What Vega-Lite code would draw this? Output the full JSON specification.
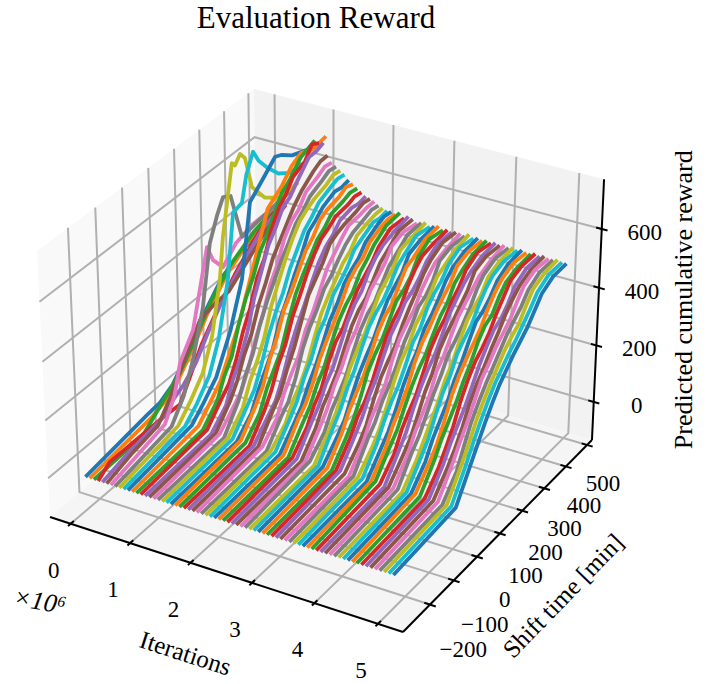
{"$schema":"https://vega.github.io/schema/vega-lite/v6.json","width":706,"height":684,"padding":0,"autosize":{"type":"fit","contains":"padding"},"background":"white","config":{"view":{"stroke":null}},
"data":{"values":[
{"g":"wall","o":0,"i":-0.3525,"t":-311,"r":-136.8},{"g":"wall","o":1,"i":-0.3525,"t":-311,"r":766},{"g":"wall","o":2,"i":-0.3525,"t":523.3,"r":766},{"g":"wall","o":3,"i":-0.3525,"t":523.3,"r":-136.8},{"g":"wall","o":4,"i":-0.3525,"t":-311,"r":-136.8},
{"g":"back","o":0,"i":-0.3525,"t":523.3,"r":-136.8},{"g":"back","o":1,"i":-0.3525,"t":523.3,"r":766},{"g":"back","o":2,"i":5.389,"t":523.3,"r":766},{"g":"back","o":3,"i":5.389,"t":523.3,"r":-136.8},{"g":"back","o":4,"i":-0.3525,"t":523.3,"r":-136.8},
{"g":"floor","o":0,"i":-0.3525,"t":-311,"r":-136.8},{"g":"floor","o":1,"i":5.389,"t":-311,"r":-136.8},{"g":"floor","o":2,"i":5.389,"t":523.3,"r":-136.8},{"g":"floor","o":3,"i":-0.3525,"t":523.3,"r":-136.8},{"g":"floor","o":4,"i":-0.3525,"t":-311,"r":-136.8},
{"g":"gr","n":"i0","o":0,"i":0,"t":-311,"r":-136.8},{"g":"gr","n":"i0","o":1,"i":0,"t":523.3,"r":-136.8},{"g":"gr","n":"i0","o":2,"i":0,"t":523.3,"r":766},
{"g":"gr","n":"i1","o":0,"i":1,"t":-311,"r":-136.8},{"g":"gr","n":"i1","o":1,"i":1,"t":523.3,"r":-136.8},{"g":"gr","n":"i1","o":2,"i":1,"t":523.3,"r":766},
{"g":"gr","n":"i2","o":0,"i":2,"t":-311,"r":-136.8},{"g":"gr","n":"i2","o":1,"i":2,"t":523.3,"r":-136.8},{"g":"gr","n":"i2","o":2,"i":2,"t":523.3,"r":766},
{"g":"gr","n":"i3","o":0,"i":3,"t":-311,"r":-136.8},{"g":"gr","n":"i3","o":1,"i":3,"t":523.3,"r":-136.8},{"g":"gr","n":"i3","o":2,"i":3,"t":523.3,"r":766},
{"g":"gr","n":"i4","o":0,"i":4,"t":-311,"r":-136.8},{"g":"gr","n":"i4","o":1,"i":4,"t":523.3,"r":-136.8},{"g":"gr","n":"i4","o":2,"i":4,"t":523.3,"r":766},
{"g":"gr","n":"i5","o":0,"i":5,"t":-311,"r":-136.8},{"g":"gr","n":"i5","o":1,"i":5,"t":523.3,"r":-136.8},{"g":"gr","n":"i5","o":2,"i":5,"t":523.3,"r":766},
{"g":"gr","n":"t1","o":0,"i":5.389,"t":-200,"r":-136.8},{"g":"gr","n":"t1","o":1,"i":-0.3525,"t":-200,"r":-136.8},{"g":"gr","n":"t1","o":2,"i":-0.3525,"t":-200,"r":766},
{"g":"gr","n":"t2","o":0,"i":5.389,"t":-100,"r":-136.8},{"g":"gr","n":"t2","o":1,"i":-0.3525,"t":-100,"r":-136.8},{"g":"gr","n":"t2","o":2,"i":-0.3525,"t":-100,"r":766},
{"g":"gr","n":"t3","o":0,"i":5.389,"t":0,"r":-136.8},{"g":"gr","n":"t3","o":1,"i":-0.3525,"t":0,"r":-136.8},{"g":"gr","n":"t3","o":2,"i":-0.3525,"t":0,"r":766},
{"g":"gr","n":"t4","o":0,"i":5.389,"t":100,"r":-136.8},{"g":"gr","n":"t4","o":1,"i":-0.3525,"t":100,"r":-136.8},{"g":"gr","n":"t4","o":2,"i":-0.3525,"t":100,"r":766},
{"g":"gr","n":"t5","o":0,"i":5.389,"t":200,"r":-136.8},{"g":"gr","n":"t5","o":1,"i":-0.3525,"t":200,"r":-136.8},{"g":"gr","n":"t5","o":2,"i":-0.3525,"t":200,"r":766},
{"g":"gr","n":"t6","o":0,"i":5.389,"t":300,"r":-136.8},{"g":"gr","n":"t6","o":1,"i":-0.3525,"t":300,"r":-136.8},{"g":"gr","n":"t6","o":2,"i":-0.3525,"t":300,"r":766},
{"g":"gr","n":"t7","o":0,"i":5.389,"t":400,"r":-136.8},{"g":"gr","n":"t7","o":1,"i":-0.3525,"t":400,"r":-136.8},{"g":"gr","n":"t7","o":2,"i":-0.3525,"t":400,"r":766},
{"g":"gr","n":"t8","o":0,"i":5.389,"t":500,"r":-136.8},{"g":"gr","n":"t8","o":1,"i":-0.3525,"t":500,"r":-136.8},{"g":"gr","n":"t8","o":2,"i":-0.3525,"t":500,"r":766},
{"g":"gr","n":"r0","o":0,"i":-0.3525,"t":-311,"r":0},{"g":"gr","n":"r0","o":1,"i":-0.3525,"t":523.3,"r":0},{"g":"gr","n":"r0","o":2,"i":5.389,"t":523.3,"r":0},
{"g":"gr","n":"r2","o":0,"i":-0.3525,"t":-311,"r":200},{"g":"gr","n":"r2","o":1,"i":-0.3525,"t":523.3,"r":200},{"g":"gr","n":"r2","o":2,"i":5.389,"t":523.3,"r":200},
{"g":"gr","n":"r4","o":0,"i":-0.3525,"t":-311,"r":400},{"g":"gr","n":"r4","o":1,"i":-0.3525,"t":523.3,"r":400},{"g":"gr","n":"r4","o":2,"i":5.389,"t":523.3,"r":400},
{"g":"gr","n":"r6","o":0,"i":-0.3525,"t":-311,"r":600},{"g":"gr","n":"r6","o":1,"i":-0.3525,"t":523.3,"r":600},{"g":"gr","n":"r6","o":2,"i":5.389,"t":523.3,"r":600},
{"g":"ax","n":"a","o":0,"i":-0.3525,"t":-311,"r":-136.8},{"g":"ax","n":"a","o":1,"i":5.389,"t":-311,"r":-136.8},
{"g":"ax","n":"b","o":0,"i":5.389,"t":-311,"r":-136.8},{"g":"ax","n":"b","o":1,"i":5.389,"t":523.3,"r":-136.8},
{"g":"ax","n":"c","o":0,"i":5.389,"t":523.3,"r":-136.8},{"g":"ax","n":"c","o":1,"i":5.389,"t":523.3,"r":766},
{"g":"ax","n":"ti0","o":0,"i":0,"t":-321,"r":-136.8},{"g":"ax","n":"ti0","o":1,"i":0,"t":-299,"r":-136.8},
{"g":"ax","n":"ti1","o":0,"i":1,"t":-321,"r":-136.8},{"g":"ax","n":"ti1","o":1,"i":1,"t":-299,"r":-136.8},
{"g":"ax","n":"ti2","o":0,"i":2,"t":-321,"r":-136.8},{"g":"ax","n":"ti2","o":1,"i":2,"t":-299,"r":-136.8},
{"g":"ax","n":"ti3","o":0,"i":3,"t":-321,"r":-136.8},{"g":"ax","n":"ti3","o":1,"i":3,"t":-299,"r":-136.8},
{"g":"ax","n":"ti4","o":0,"i":4,"t":-321,"r":-136.8},{"g":"ax","n":"ti4","o":1,"i":4,"t":-299,"r":-136.8},
{"g":"ax","n":"ti5","o":0,"i":5,"t":-321,"r":-136.8},{"g":"ax","n":"ti5","o":1,"i":5,"t":-299,"r":-136.8},
{"g":"ax","n":"tt1","o":0,"i":5.3,"t":-200,"r":-136.8},{"g":"ax","n":"tt1","o":1,"i":5.48,"t":-200,"r":-136.8},
{"g":"ax","n":"tt2","o":0,"i":5.3,"t":-100,"r":-136.8},{"g":"ax","n":"tt2","o":1,"i":5.48,"t":-100,"r":-136.8},
{"g":"ax","n":"tt3","o":0,"i":5.3,"t":0,"r":-136.8},{"g":"ax","n":"tt3","o":1,"i":5.48,"t":0,"r":-136.8},
{"g":"ax","n":"tt4","o":0,"i":5.3,"t":100,"r":-136.8},{"g":"ax","n":"tt4","o":1,"i":5.48,"t":100,"r":-136.8},
{"g":"ax","n":"tt5","o":0,"i":5.3,"t":200,"r":-136.8},{"g":"ax","n":"tt5","o":1,"i":5.48,"t":200,"r":-136.8},
{"g":"ax","n":"tt6","o":0,"i":5.3,"t":300,"r":-136.8},{"g":"ax","n":"tt6","o":1,"i":5.48,"t":300,"r":-136.8},
{"g":"ax","n":"tt7","o":0,"i":5.3,"t":400,"r":-136.8},{"g":"ax","n":"tt7","o":1,"i":5.48,"t":400,"r":-136.8},
{"g":"ax","n":"tt8","o":0,"i":5.3,"t":500,"r":-136.8},{"g":"ax","n":"tt8","o":1,"i":5.48,"t":500,"r":-136.8},
{"g":"ax","n":"tr0","o":0,"i":5.3,"t":523.3,"r":0},{"g":"ax","n":"tr0","o":1,"i":5.48,"t":523.3,"r":0},
{"g":"ax","n":"tr2","o":0,"i":5.3,"t":523.3,"r":200},{"g":"ax","n":"tr2","o":1,"i":5.48,"t":523.3,"r":200},
{"g":"ax","n":"tr4","o":0,"i":5.3,"t":523.3,"r":400},{"g":"ax","n":"tr4","o":1,"i":5.48,"t":523.3,"r":400},
{"g":"ax","n":"tr6","o":0,"i":5.3,"t":523.3,"r":600},{"g":"ax","n":"tr6","o":1,"i":5.48,"t":523.3,"r":600},
{"g":"il","s":"0","i":0,"t":-311,"r":-136.8},{"g":"il","s":"1","i":1,"t":-311,"r":-136.8},{"g":"il","s":"2","i":2,"t":-311,"r":-136.8},{"g":"il","s":"3","i":3,"t":-311,"r":-136.8},{"g":"il","s":"4","i":4,"t":-311,"r":-136.8},{"g":"il","s":"5","i":5,"t":-311,"r":-136.8},
{"g":"tl","s":"−200","i":6.3,"t":-307,"r":-136.8},{"g":"tl","s":"−100","i":6.27,"t":-209,"r":-136.8},{"g":"tl","s":"0","i":6.23,"t":-112,"r":-136.8},{"g":"tl","s":"100","i":6.2,"t":-14,"r":-136.8},{"g":"tl","s":"200","i":6.17,"t":83,"r":-136.8},{"g":"tl","s":"300","i":6.13,"t":180,"r":-136.8},{"g":"tl","s":"400","i":6.1,"t":279,"r":-136.8},{"g":"tl","s":"500","i":6.07,"t":376,"r":-136.8},
{"g":"rl","s":"0","i":5.389,"t":523.3,"r":0},{"g":"rl","s":"200","i":5.389,"t":523.3,"r":200},{"g":"rl","s":"400","i":5.389,"t":523.3,"r":400},{"g":"rl","s":"600","i":5.389,"t":523.3,"r":600},
{"g":"title","s":"Evaluation Reward","i":-0.3525,"t":523.3,"r":766},
{"g":"xl","s":"Iterations","i":2.5,"t":-311,"r":-136.8},
{"g":"yl","s":"Shift time [min]","i":5.389,"t":150,"r":-136.8},
{"g":"zl","s":"Predicted cumulative reward","i":5.389,"t":523.3,"r":300},
{"g":"off","s":"×10⁶","i":0,"t":-311,"r":-136.8},
{"k":0,"t":-250,"r":-20},{"k":0,"t":-10,"r":15},{"k":0,"t":40,"r":20},{"k":0,"t":90,"r":45},{"k":0,"t":150,"r":110},{"k":0,"t":220,"r":200},{"k":0,"t":300,"r":280},{"k":0,"t":400,"r":320},{"k":0,"t":480,"r":330},
{"k":1,"t":-250,"r":-20},{"k":1,"t":-10,"r":10},{"k":1,"t":40,"r":25},{"k":1,"t":90,"r":55},{"k":1,"t":150,"r":120},{"k":1,"t":220,"r":210},{"k":1,"t":300,"r":290},{"k":1,"t":400,"r":350},{"k":1,"t":480,"r":370},
{"k":2,"t":-250,"r":-20},{"k":2,"t":-60,"r":-10},{"k":2,"t":0,"r":35},{"k":2,"t":50,"r":70},{"k":2,"t":90,"r":100},{"k":2,"t":150,"r":170},{"k":2,"t":220,"r":260},{"k":2,"t":300,"r":330},{"k":2,"t":400,"r":380},{"k":2,"t":480,"r":400},
{"k":3,"t":-250,"r":-20},{"k":3,"t":-204,"r":11},{"k":3,"t":-100,"r":10},{"k":3,"t":0,"r":10},{"k":3,"t":69,"r":5},{"k":3,"t":110,"r":70},{"k":3,"t":160,"r":150},{"k":3,"t":220,"r":220},{"k":3,"t":300,"r":300},{"k":3,"t":400,"r":380},{"k":3,"t":480,"r":410},
{"k":4,"t":-250,"r":-20},{"k":4,"t":-150,"r":5},{"k":4,"t":-20,"r":25},{"k":4,"t":30,"r":60},{"k":4,"t":70,"r":80},{"k":4,"t":120,"r":120},{"k":4,"t":170,"r":190},{"k":4,"t":230,"r":260},{"k":4,"t":300,"r":320},{"k":4,"t":400,"r":400},{"k":4,"t":480,"r":420},
{"k":5,"t":-250,"r":-20},{"k":5,"t":-150,"r":10},{"k":5,"t":-50,"r":30},{"k":5,"t":0,"r":90},{"k":5,"t":30,"r":140},{"k":5,"t":80,"r":210},{"k":5,"t":123,"r":272},{"k":5,"t":175,"r":285},{"k":5,"t":240,"r":290},{"k":5,"t":300,"r":330},{"k":5,"t":400,"r":400},{"k":5,"t":480,"r":430},
{"k":6,"t":-250,"r":-20},{"k":6,"t":-40,"r":30},{"k":6,"t":0,"r":100},{"k":6,"t":25,"r":198},{"k":6,"t":79,"r":274},{"k":6,"t":140,"r":516},{"k":6,"t":163,"r":456},{"k":6,"t":202,"r":405},{"k":6,"t":255,"r":451},{"k":6,"t":320,"r":470},{"k":6,"t":400,"r":470},{"k":6,"t":480,"r":480},
{"k":7,"t":-250,"r":-20},{"k":7,"t":-30,"r":20},{"k":7,"t":20,"r":90},{"k":7,"t":60,"r":190},{"k":7,"t":103,"r":340},{"k":7,"t":135,"r":537},{"k":7,"t":165,"r":610},{"k":7,"t":190,"r":656},{"k":7,"t":220,"r":640},{"k":7,"t":263,"r":472},{"k":7,"t":320,"r":480},{"k":7,"t":400,"r":490},{"k":7,"t":480,"r":500},
{"k":8,"t":-250,"r":-20},{"k":8,"t":-20,"r":20},{"k":8,"t":30,"r":70},{"k":8,"t":80,"r":130},{"k":8,"t":120,"r":230},{"k":8,"t":155,"r":401},{"k":8,"t":170,"r":538},{"k":8,"t":210,"r":761},{"k":8,"t":222,"r":745},{"k":8,"t":243,"r":770},{"k":8,"t":262,"r":745},{"k":8,"t":289,"r":629},{"k":8,"t":340,"r":560},{"k":8,"t":400,"r":520},{"k":8,"t":480,"r":520},
{"k":9,"t":-250,"r":-20},{"k":9,"t":-10,"r":15},{"k":9,"t":40,"r":60},{"k":9,"t":90,"r":120},{"k":9,"t":130,"r":220},{"k":9,"t":170,"r":396},{"k":9,"t":195,"r":608},{"k":9,"t":231,"r":618},{"k":9,"t":250,"r":700},{"k":9,"t":278,"r":759},{"k":9,"t":300,"r":715},{"k":9,"t":334,"r":670},{"k":9,"t":380,"r":620},{"k":9,"t":430,"r":590},{"k":9,"t":480,"r":590},
{"k":10,"t":-250,"r":-20},{"k":10,"t":0,"r":15},{"k":10,"t":50,"r":60},{"k":10,"t":100,"r":110},{"k":10,"t":160,"r":230},{"k":10,"t":210,"r":375},{"k":10,"t":246,"r":614},{"k":10,"t":290,"r":650},{"k":10,"t":350,"r":700},{"k":10,"t":375,"r":690},{"k":10,"t":420,"r":660},{"k":10,"t":480,"r":640},
{"k":11,"t":-250,"r":-20},{"k":11,"t":10,"r":10},{"k":11,"t":50,"r":50},{"k":11,"t":100,"r":100},{"k":11,"t":180,"r":250},{"k":11,"t":250,"r":430},{"k":11,"t":300,"r":560},{"k":11,"t":360,"r":600},{"k":11,"t":400,"r":640},{"k":11,"t":440,"r":660},{"k":11,"t":490,"r":640},{"k":11,"t":545,"r":650},
{"k":12,"t":-250,"r":-20},{"k":12,"t":10,"r":0},{"k":12,"t":70,"r":60},{"k":12,"t":100,"r":125},{"k":12,"t":130,"r":170},{"k":12,"t":160,"r":260},{"k":12,"t":190,"r":330},{"k":12,"t":220,"r":380},{"k":12,"t":250,"r":450},{"k":12,"t":280,"r":490},{"k":12,"t":310,"r":540},{"k":12,"t":340,"r":590},{"k":12,"t":370,"r":610},{"k":12,"t":420,"r":660},{"k":12,"t":450,"r":670},{"k":12,"t":480,"r":680},
{"k":13,"t":-250,"r":-20},{"k":13,"t":10,"r":5},{"k":13,"t":70,"r":70},{"k":13,"t":100,"r":100},{"k":13,"t":130,"r":160},{"k":13,"t":160,"r":240},{"k":13,"t":190,"r":300},{"k":13,"t":220,"r":385},{"k":13,"t":250,"r":430},{"k":13,"t":280,"r":510},{"k":13,"t":310,"r":560},{"k":13,"t":340,"r":590},{"k":13,"t":370,"r":630},{"k":13,"t":420,"r":650},{"k":13,"t":450,"r":690},{"k":13,"t":480,"r":675},
{"k":14,"t":-250,"r":-20},{"k":14,"t":10,"r":-5},{"k":14,"t":70,"r":50},{"k":14,"t":100,"r":120},{"k":14,"t":130,"r":170},{"k":14,"t":160,"r":240},{"k":14,"t":190,"r":340},{"k":14,"t":220,"r":410},{"k":14,"t":250,"r":480},{"k":14,"t":280,"r":520},{"k":14,"t":310,"r":570},{"k":14,"t":340,"r":585},{"k":14,"t":370,"r":620},{"k":14,"t":420,"r":670},{"k":14,"t":450,"r":670},{"k":14,"t":480,"r":680},
{"k":15,"t":-250,"r":-20},{"k":15,"t":10,"r":0},{"k":15,"t":70,"r":70},{"k":15,"t":100,"r":120},{"k":15,"t":130,"r":190},{"k":15,"t":160,"r":240},{"k":15,"t":190,"r":320},{"k":15,"t":220,"r":375},{"k":15,"t":250,"r":440},{"k":15,"t":280,"r":480},{"k":15,"t":310,"r":520},{"k":15,"t":340,"r":560},{"k":15,"t":370,"r":590},{"k":15,"t":420,"r":625},{"k":15,"t":450,"r":640},{"k":15,"t":480,"r":640},
{"k":16,"t":-250,"r":-20},{"k":16,"t":10,"r":5},{"k":16,"t":70,"r":60},{"k":16,"t":100,"r":90},{"k":16,"t":130,"r":150},{"k":16,"t":160,"r":230},{"k":16,"t":190,"r":290},{"k":16,"t":220,"r":370},{"k":16,"t":250,"r":420},{"k":16,"t":280,"r":490},{"k":16,"t":310,"r":530},{"k":16,"t":340,"r":550},{"k":16,"t":370,"r":590},{"k":16,"t":420,"r":610},{"k":16,"t":450,"r":625},{"k":16,"t":480,"r":620},
{"k":17,"t":-250,"r":-20},{"k":17,"t":10,"r":-5},{"k":17,"t":70,"r":80},{"k":17,"t":100,"r":150},{"k":17,"t":130,"r":200},{"k":17,"t":160,"r":280},{"k":17,"t":190,"r":340},{"k":17,"t":220,"r":390},{"k":17,"t":250,"r":440},{"k":17,"t":280,"r":480},{"k":17,"t":310,"r":525},{"k":17,"t":340,"r":550},{"k":17,"t":370,"r":580},{"k":17,"t":420,"r":600},{"k":17,"t":450,"r":615},{"k":17,"t":480,"r":610},
{"k":18,"t":-250,"r":-20},{"k":18,"t":10,"r":0},{"k":18,"t":70,"r":60},{"k":18,"t":100,"r":130},{"k":18,"t":130,"r":180},{"k":18,"t":160,"r":240},{"k":18,"t":190,"r":330},{"k":18,"t":220,"r":390},{"k":18,"t":250,"r":450},{"k":18,"t":280,"r":500},{"k":18,"t":310,"r":540},{"k":18,"t":340,"r":560},{"k":18,"t":370,"r":575},{"k":18,"t":420,"r":590},{"k":18,"t":450,"r":605},{"k":18,"t":480,"r":600},
{"k":19,"t":-250,"r":-20},{"k":19,"t":10,"r":0},{"k":19,"t":70,"r":70},{"k":19,"t":100,"r":105},{"k":19,"t":130,"r":170},{"k":19,"t":160,"r":250},{"k":19,"t":190,"r":310},{"k":19,"t":220,"r":355},{"k":19,"t":250,"r":420},{"k":19,"t":280,"r":465},{"k":19,"t":310,"r":510},{"k":19,"t":340,"r":535},{"k":19,"t":370,"r":565},{"k":19,"t":420,"r":585},{"k":19,"t":450,"r":595},{"k":19,"t":480,"r":590},
{"k":20,"t":-250,"r":-20},{"k":20,"t":10,"r":-5},{"k":20,"t":70,"r":50},{"k":20,"t":100,"r":110},{"k":20,"t":130,"r":160},{"k":20,"t":160,"r":210},{"k":20,"t":190,"r":290},{"k":20,"t":220,"r":340},{"k":20,"t":250,"r":400},{"k":20,"t":280,"r":450},{"k":20,"t":310,"r":510},{"k":20,"t":340,"r":530},{"k":20,"t":370,"r":555},{"k":20,"t":420,"r":575},{"k":20,"t":450,"r":570},{"k":20,"t":480,"r":575},
{"k":21,"t":-250,"r":-20},{"k":21,"t":10,"r":5},{"k":21,"t":70,"r":80},{"k":21,"t":100,"r":125},{"k":21,"t":130,"r":200},{"k":21,"t":160,"r":255},{"k":21,"t":190,"r":330},{"k":21,"t":220,"r":370},{"k":21,"t":250,"r":420},{"k":21,"t":280,"r":470},{"k":21,"t":310,"r":495},{"k":21,"t":340,"r":535},{"k":21,"t":370,"r":550},{"k":21,"t":420,"r":560},{"k":21,"t":450,"r":575},{"k":21,"t":480,"r":565},
{"k":22,"t":-250,"r":-20},{"k":22,"t":10,"r":0},{"k":22,"t":70,"r":60},{"k":22,"t":100,"r":125},{"k":22,"t":130,"r":170},{"k":22,"t":160,"r":215},{"k":22,"t":190,"r":295},{"k":22,"t":220,"r":365},{"k":22,"t":250,"r":410},{"k":22,"t":280,"r":450},{"k":22,"t":310,"r":490},{"k":22,"t":340,"r":510},{"k":22,"t":370,"r":540},{"k":22,"t":420,"r":550},{"k":22,"t":450,"r":560},{"k":22,"t":480,"r":555},
{"k":23,"t":-250,"r":-20},{"k":23,"t":10,"r":-5},{"k":23,"t":70,"r":70},{"k":23,"t":100,"r":120},{"k":23,"t":130,"r":190},{"k":23,"t":160,"r":240},{"k":23,"t":190,"r":315},{"k":23,"t":220,"r":365},{"k":23,"t":250,"r":420},{"k":23,"t":280,"r":465},{"k":23,"t":310,"r":500},{"k":23,"t":340,"r":515},{"k":23,"t":370,"r":535},{"k":23,"t":420,"r":540},{"k":23,"t":450,"r":550},{"k":23,"t":480,"r":545},
{"k":24,"t":-250,"r":-20},{"k":24,"t":10,"r":0},{"k":24,"t":70,"r":60},{"k":24,"t":100,"r":90},{"k":24,"t":130,"r":150},{"k":24,"t":160,"r":225},{"k":24,"t":190,"r":285},{"k":24,"t":220,"r":335},{"k":24,"t":250,"r":390},{"k":24,"t":280,"r":440},{"k":24,"t":310,"r":475},{"k":24,"t":340,"r":495},{"k":24,"t":370,"r":525},{"k":24,"t":420,"r":535},{"k":24,"t":450,"r":530},{"k":24,"t":480,"r":535},
{"k":25,"t":-250,"r":-20},{"k":25,"t":10,"r":0},{"k":25,"t":70,"r":80},{"k":25,"t":100,"r":115},{"k":25,"t":130,"r":180},{"k":25,"t":160,"r":235},{"k":25,"t":190,"r":305},{"k":25,"t":220,"r":375},{"k":25,"t":250,"r":410},{"k":25,"t":280,"r":445},{"k":25,"t":310,"r":490},{"k":25,"t":340,"r":505},{"k":25,"t":370,"r":515},{"k":25,"t":420,"r":525},{"k":25,"t":450,"r":535},{"k":25,"t":480,"r":530},
{"k":26,"t":-250,"r":-20},{"k":26,"t":10,"r":5},{"k":26,"t":70,"r":60},{"k":26,"t":100,"r":125},{"k":26,"t":130,"r":170},{"k":26,"t":160,"r":210},{"k":26,"t":190,"r":280},{"k":26,"t":220,"r":320},{"k":26,"t":250,"r":375},{"k":26,"t":280,"r":430},{"k":26,"t":310,"r":460},{"k":26,"t":340,"r":490},{"k":26,"t":370,"r":515},{"k":26,"t":420,"r":520},{"k":26,"t":450,"r":525},{"k":26,"t":480,"r":525},
{"k":27,"t":-250,"r":-20},{"k":27,"t":10,"r":-5},{"k":27,"t":70,"r":70},{"k":27,"t":100,"r":100},{"k":27,"t":130,"r":160},{"k":27,"t":160,"r":240},{"k":27,"t":190,"r":295},{"k":27,"t":220,"r":335},{"k":27,"t":250,"r":385},{"k":27,"t":280,"r":410},{"k":27,"t":310,"r":445},{"k":27,"t":340,"r":475},{"k":27,"t":370,"r":495},{"k":27,"t":420,"r":510},{"k":27,"t":450,"r":520},{"k":27,"t":480,"r":515},
{"k":28,"t":-250,"r":-20},{"k":28,"t":10,"r":0},{"k":28,"t":70,"r":50},{"k":28,"t":100,"r":105},{"k":28,"t":130,"r":140},{"k":28,"t":160,"r":190},{"k":28,"t":190,"r":260},{"k":28,"t":220,"r":325},{"k":28,"t":250,"r":365},{"k":28,"t":280,"r":400},{"k":28,"t":310,"r":435},{"k":28,"t":340,"r":455},{"k":28,"t":370,"r":490},{"k":28,"t":420,"r":505},{"k":28,"t":450,"r":510},{"k":28,"t":480,"r":510},
{"k":29,"t":-250,"r":-20},{"k":29,"t":10,"r":0},{"k":29,"t":70,"r":70},{"k":29,"t":100,"r":110},{"k":29,"t":130,"r":170},{"k":29,"t":160,"r":215},{"k":29,"t":190,"r":280},{"k":29,"t":220,"r":315},{"k":29,"t":250,"r":370},{"k":29,"t":280,"r":395},{"k":29,"t":310,"r":425},{"k":29,"t":340,"r":465},{"k":29,"t":370,"r":480},{"k":29,"t":420,"r":505},{"k":29,"t":450,"r":500},{"k":29,"t":480,"r":505},
{"k":30,"t":-250,"r":-20},{"k":30,"t":10,"r":-5},{"k":30,"t":70,"r":60},{"k":30,"t":100,"r":95},{"k":30,"t":130,"r":150},{"k":30,"t":160,"r":195},{"k":30,"t":190,"r":250},{"k":30,"t":220,"r":310},{"k":30,"t":250,"r":345},{"k":30,"t":280,"r":395},{"k":30,"t":310,"r":420},{"k":30,"t":340,"r":440},{"k":30,"t":370,"r":475},{"k":30,"t":420,"r":500},{"k":30,"t":450,"r":510},{"k":30,"t":480,"r":505},
{"k":31,"t":-250,"r":-20},{"k":31,"t":10,"r":0},{"k":31,"t":70,"r":80},{"k":31,"t":100,"r":110},{"k":31,"t":130,"r":160},{"k":31,"t":160,"r":225},{"k":31,"t":190,"r":270},{"k":31,"t":220,"r":310},{"k":31,"t":250,"r":355},{"k":31,"t":280,"r":405},{"k":31,"t":310,"r":430},{"k":31,"t":340,"r":445},{"k":31,"t":370,"r":480},{"k":31,"t":420,"r":500},{"k":31,"t":450,"r":505},{"k":31,"t":480,"r":500},
{"k":32,"t":-250,"r":-20},{"k":32,"t":10,"r":-5},{"k":32,"t":70,"r":70},{"k":32,"t":100,"r":105},{"k":32,"t":130,"r":160},{"k":32,"t":160,"r":200},{"k":32,"t":190,"r":260},{"k":32,"t":220,"r":315},{"k":32,"t":250,"r":350},{"k":32,"t":280,"r":375},{"k":32,"t":310,"r":420},{"k":32,"t":340,"r":445},{"k":32,"t":370,"r":475},{"k":32,"t":420,"r":505},{"k":32,"t":480,"r":510},
{"k":33,"t":-250,"r":-20},{"k":33,"t":10,"r":0},{"k":33,"t":70,"r":60},{"k":33,"t":100,"r":115},{"k":33,"t":130,"r":150},{"k":33,"t":160,"r":220},{"k":33,"t":190,"r":270},{"k":33,"t":220,"r":295},{"k":33,"t":250,"r":340},{"k":33,"t":280,"r":385},{"k":33,"t":310,"r":410},{"k":33,"t":340,"r":435},{"k":33,"t":370,"r":470},{"k":33,"t":420,"r":500},{"k":33,"t":480,"r":495},
{"k":34,"t":-250,"r":-20},{"k":34,"t":10,"r":0},{"k":34,"t":70,"r":80},{"k":34,"t":100,"r":115},{"k":34,"t":130,"r":170},{"k":34,"t":160,"r":205},{"k":34,"t":190,"r":260},{"k":34,"t":220,"r":320},{"k":34,"t":250,"r":360},{"k":34,"t":280,"r":385},{"k":34,"t":310,"r":430},{"k":34,"t":340,"r":460},{"k":34,"t":370,"r":480},{"k":34,"t":420,"r":495},{"k":34,"t":480,"r":505},
{"k":35,"t":-250,"r":-20},{"k":35,"t":10,"r":-5},{"k":35,"t":70,"r":65},{"k":35,"t":100,"r":120},{"k":35,"t":130,"r":155},{"k":35,"t":160,"r":195},{"k":35,"t":190,"r":255},{"k":35,"t":220,"r":310},{"k":35,"t":250,"r":345},{"k":35,"t":280,"r":365},{"k":35,"t":310,"r":405},{"k":35,"t":340,"r":445},{"k":35,"t":370,"r":465},{"k":35,"t":420,"r":500},{"k":35,"t":480,"r":500},
{"k":36,"t":-250,"r":-20},{"k":36,"t":10,"r":0},{"k":36,"t":70,"r":75},{"k":36,"t":100,"r":115},{"k":36,"t":130,"r":175},{"k":36,"t":160,"r":215},{"k":36,"t":190,"r":270},{"k":36,"t":220,"r":300},{"k":36,"t":250,"r":350},{"k":36,"t":280,"r":395},{"k":36,"t":310,"r":420},{"k":36,"t":340,"r":445},{"k":36,"t":370,"r":485},{"k":36,"t":420,"r":500},{"k":36,"t":480,"r":490},
{"k":37,"t":-250,"r":-20},{"k":37,"t":10,"r":5},{"k":37,"t":70,"r":60},{"k":37,"t":100,"r":115},{"k":37,"t":130,"r":150},{"k":37,"t":160,"r":190},{"k":37,"t":190,"r":250},{"k":37,"t":220,"r":305},{"k":37,"t":250,"r":340},{"k":37,"t":280,"r":360},{"k":37,"t":310,"r":400},{"k":37,"t":340,"r":440},{"k":37,"t":370,"r":460},{"k":37,"t":420,"r":495},{"k":37,"t":480,"r":495},
{"k":38,"t":-250,"r":-20},{"k":38,"t":10,"r":-5},{"k":38,"t":70,"r":70},{"k":38,"t":100,"r":110},{"k":38,"t":130,"r":165},{"k":38,"t":160,"r":225},{"k":38,"t":190,"r":265},{"k":38,"t":220,"r":295},{"k":38,"t":250,"r":345},{"k":38,"t":280,"r":390},{"k":38,"t":310,"r":415},{"k":38,"t":340,"r":440},{"k":38,"t":370,"r":480},{"k":38,"t":420,"r":490},{"k":38,"t":480,"r":500},
{"k":39,"t":-250,"r":-20},{"k":39,"t":10,"r":0},{"k":39,"t":70,"r":85},{"k":39,"t":100,"r":125},{"k":39,"t":130,"r":180},{"k":39,"t":160,"r":220},{"k":39,"t":190,"r":275},{"k":39,"t":220,"r":325},{"k":39,"t":250,"r":355},{"k":39,"t":280,"r":375},{"k":39,"t":310,"r":410},{"k":39,"t":340,"r":450},{"k":39,"t":370,"r":470},{"k":39,"t":420,"r":500},{"k":39,"t":480,"r":490},
{"k":40,"t":-250,"r":-20},{"k":40,"t":10,"r":0},{"k":40,"t":70,"r":60},{"k":40,"t":100,"r":95},{"k":40,"t":130,"r":155},{"k":40,"t":160,"r":210},{"k":40,"t":190,"r":250},{"k":40,"t":220,"r":285},{"k":40,"t":250,"r":335},{"k":40,"t":280,"r":380},{"k":40,"t":310,"r":405},{"k":40,"t":340,"r":430},{"k":40,"t":370,"r":475},{"k":40,"t":420,"r":490},{"k":40,"t":480,"r":495},
{"k":41,"t":-250,"r":-20},{"k":41,"t":10,"r":0},{"k":41,"t":70,"r":75},{"k":41,"t":100,"r":130},{"k":41,"t":130,"r":170},{"k":41,"t":160,"r":205},{"k":41,"t":190,"r":260},{"k":41,"t":220,"r":315},{"k":41,"t":250,"r":350},{"k":41,"t":280,"r":370},{"k":41,"t":310,"r":415},{"k":41,"t":340,"r":455},{"k":41,"t":370,"r":465},{"k":41,"t":420,"r":495},{"k":41,"t":480,"r":500},
{"k":42,"t":-250,"r":-20},{"k":42,"t":10,"r":-5},{"k":42,"t":70,"r":65},{"k":42,"t":100,"r":105},{"k":42,"t":130,"r":160},{"k":42,"t":160,"r":225},{"k":42,"t":190,"r":265},{"k":42,"t":220,"r":295},{"k":42,"t":250,"r":340},{"k":42,"t":280,"r":385},{"k":42,"t":310,"r":400},{"k":42,"t":340,"r":425},{"k":42,"t":370,"r":470},{"k":42,"t":420,"r":500},{"k":42,"t":480,"r":490},
{"k":43,"t":-250,"r":-20},{"k":43,"t":10,"r":0},{"k":43,"t":70,"r":70},{"k":43,"t":100,"r":120},{"k":43,"t":130,"r":150},{"k":43,"t":160,"r":195},{"k":43,"t":190,"r":255},{"k":43,"t":220,"r":310},{"k":43,"t":250,"r":345},{"k":43,"t":280,"r":370},{"k":43,"t":310,"r":420},{"k":43,"t":340,"r":455},{"k":43,"t":370,"r":480},{"k":43,"t":420,"r":490},{"k":43,"t":480,"r":495},
{"k":44,"t":-250,"r":-20},{"k":44,"t":10,"r":5},{"k":44,"t":70,"r":80},{"k":44,"t":100,"r":120},{"k":44,"t":130,"r":175},{"k":44,"t":160,"r":215},{"k":44,"t":190,"r":270},{"k":44,"t":220,"r":320},{"k":44,"t":250,"r":350},{"k":44,"t":280,"r":390},{"k":44,"t":310,"r":405},{"k":44,"t":340,"r":430},{"k":44,"t":370,"r":465},{"k":44,"t":420,"r":495},{"k":44,"t":480,"r":490},
{"k":45,"t":-250,"r":-20},{"k":45,"t":10,"r":0},{"k":45,"t":70,"r":60},{"k":45,"t":100,"r":100},{"k":45,"t":130,"r":165},{"k":45,"t":160,"r":220},{"k":45,"t":190,"r":255},{"k":45,"t":220,"r":285},{"k":45,"t":250,"r":335},{"k":45,"t":280,"r":375},{"k":45,"t":310,"r":410},{"k":45,"t":340,"r":450},{"k":45,"t":370,"r":475},{"k":45,"t":420,"r":500},{"k":45,"t":480,"r":495},
{"k":46,"t":-250,"r":-20},{"k":46,"t":10,"r":-5},{"k":46,"t":70,"r":70},{"k":46,"t":100,"r":125},{"k":46,"t":130,"r":160},{"k":46,"t":160,"r":200},{"k":46,"t":190,"r":265},{"k":46,"t":220,"r":315},{"k":46,"t":250,"r":345},{"k":46,"t":280,"r":370},{"k":46,"t":310,"r":415},{"k":46,"t":340,"r":445},{"k":46,"t":370,"r":470},{"k":46,"t":420,"r":485},{"k":46,"t":480,"r":495},
{"k":47,"t":-250,"r":-20},{"k":47,"t":10,"r":0},{"k":47,"t":70,"r":85},{"k":47,"t":100,"r":120},{"k":47,"t":130,"r":170},{"k":47,"t":160,"r":205},{"k":47,"t":190,"r":250},{"k":47,"t":220,"r":305},{"k":47,"t":250,"r":340},{"k":47,"t":280,"r":385},{"k":47,"t":310,"r":400},{"k":47,"t":340,"r":430},{"k":47,"t":370,"r":480},{"k":47,"t":420,"r":495},{"k":47,"t":480,"r":490},
{"k":48,"t":-250,"r":-20},{"k":48,"t":10,"r":0},{"k":48,"t":70,"r":60},{"k":48,"t":100,"r":100},{"k":48,"t":130,"r":155},{"k":48,"t":160,"r":220},{"k":48,"t":190,"r":270},{"k":48,"t":220,"r":300},{"k":48,"t":250,"r":350},{"k":48,"t":280,"r":375},{"k":48,"t":310,"r":410},{"k":48,"t":340,"r":450},{"k":48,"t":370,"r":465},{"k":48,"t":420,"r":490},{"k":48,"t":480,"r":500},
{"k":49,"t":-250,"r":-20},{"k":49,"t":10,"r":0},{"k":49,"t":70,"r":75},{"k":49,"t":100,"r":130},{"k":49,"t":130,"r":175},{"k":49,"t":160,"r":210},{"k":49,"t":190,"r":260},{"k":49,"t":220,"r":315},{"k":49,"t":250,"r":340},{"k":49,"t":280,"r":390},{"k":49,"t":310,"r":420},{"k":49,"t":340,"r":440},{"k":49,"t":370,"r":475},{"k":49,"t":420,"r":500},{"k":49,"t":480,"r":490},
{"k":50,"t":-250,"r":-20},{"k":50,"t":10,"r":-5},{"k":50,"t":70,"r":65},{"k":50,"t":100,"r":100},{"k":50,"t":130,"r":150},{"k":50,"t":160,"r":210},{"k":50,"t":190,"r":255},{"k":50,"t":220,"r":290},{"k":50,"t":250,"r":345},{"k":50,"t":280,"r":370},{"k":50,"t":310,"r":405},{"k":50,"t":340,"r":445},{"k":50,"t":370,"r":470},{"k":50,"t":420,"r":490},{"k":50,"t":480,"r":495},
{"k":51,"t":-250,"r":-20},{"k":51,"t":10,"r":0},{"k":51,"t":70,"r":70},{"k":51,"t":100,"r":125},{"k":51,"t":130,"r":165},{"k":51,"t":160,"r":210},{"k":51,"t":190,"r":275},{"k":51,"t":220,"r":320},{"k":51,"t":250,"r":350},{"k":51,"t":280,"r":385},{"k":51,"t":310,"r":415},{"k":51,"t":340,"r":440},{"k":51,"t":370,"r":480},{"k":51,"t":420,"r":495},{"k":51,"t":480,"r":490},
{"k":52,"t":-250,"r":-20},{"k":52,"t":10,"r":5},{"k":52,"t":70,"r":80},{"k":52,"t":100,"r":115},{"k":52,"t":130,"r":170},{"k":52,"t":160,"r":220},{"k":52,"t":190,"r":260},{"k":52,"t":220,"r":290},{"k":52,"t":250,"r":335},{"k":52,"t":280,"r":375},{"k":52,"t":310,"r":400},{"k":52,"t":340,"r":445},{"k":52,"t":370,"r":465},{"k":52,"t":420,"r":490},{"k":52,"t":480,"r":495},
{"k":53,"t":-250,"r":-20},{"k":53,"t":10,"r":0},{"k":53,"t":70,"r":60},{"k":53,"t":100,"r":120},{"k":53,"t":130,"r":160},{"k":53,"t":160,"r":195},{"k":53,"t":190,"r":250},{"k":53,"t":220,"r":310},{"k":53,"t":250,"r":345},{"k":53,"t":280,"r":370},{"k":53,"t":310,"r":410},{"k":53,"t":340,"r":435},{"k":53,"t":370,"r":475},{"k":53,"t":420,"r":500},{"k":53,"t":480,"r":490},
{"k":54,"t":-250,"r":-20},{"k":54,"t":10,"r":-5},{"k":54,"t":70,"r":75},{"k":54,"t":100,"r":115},{"k":54,"t":130,"r":175},{"k":54,"t":160,"r":225},{"k":54,"t":190,"r":265},{"k":54,"t":220,"r":295},{"k":54,"t":250,"r":340},{"k":54,"t":280,"r":390},{"k":54,"t":310,"r":420},{"k":54,"t":340,"r":450},{"k":54,"t":370,"r":470},{"k":54,"t":420,"r":490},{"k":54,"t":480,"r":495},
{"k":55,"t":-250,"r":-20},{"k":55,"t":10,"r":0},{"k":55,"t":70,"r":65},{"k":55,"t":100,"r":100},{"k":55,"t":130,"r":155},{"k":55,"t":160,"r":215},{"k":55,"t":190,"r":255},{"k":55,"t":220,"r":315},{"k":55,"t":250,"r":350},{"k":55,"t":280,"r":375},{"k":55,"t":310,"r":405},{"k":55,"t":340,"r":435},{"k":55,"t":370,"r":480},{"k":55,"t":420,"r":495},{"k":55,"t":480,"r":490},
{"k":56,"t":-250,"r":-20},{"k":56,"t":10,"r":0},{"k":56,"t":70,"r":70},{"k":56,"t":100,"r":125},{"k":56,"t":130,"r":165},{"k":56,"t":160,"r":205},{"k":56,"t":190,"r":270},{"k":56,"t":220,"r":300},{"k":56,"t":250,"r":345},{"k":56,"t":280,"r":390},{"k":56,"t":310,"r":415},{"k":56,"t":340,"r":440},{"k":56,"t":370,"r":465},{"k":56,"t":420,"r":485},{"k":56,"t":480,"r":495},
{"k":57,"t":-250,"r":-20},{"k":57,"t":10,"r":0},{"k":57,"t":70,"r":85},{"k":57,"t":100,"r":120},{"k":57,"t":130,"r":170},{"k":57,"t":160,"r":220},{"k":57,"t":190,"r":260},{"k":57,"t":220,"r":310},{"k":57,"t":250,"r":335},{"k":57,"t":280,"r":365},{"k":57,"t":310,"r":400},{"k":57,"t":340,"r":445},{"k":57,"t":370,"r":475},{"k":57,"t":420,"r":495},{"k":57,"t":480,"r":490},
{"k":58,"t":-250,"r":-20},{"k":58,"t":10,"r":-5},{"k":58,"t":70,"r":60},{"k":58,"t":100,"r":105},{"k":58,"t":130,"r":150},{"k":58,"t":160,"r":195},{"k":58,"t":190,"r":250},{"k":58,"t":220,"r":285},{"k":58,"t":250,"r":340},{"k":58,"t":280,"r":385},{"k":58,"t":310,"r":410},{"k":58,"t":340,"r":430},{"k":58,"t":370,"r":470},{"k":58,"t":420,"r":490},{"k":58,"t":480,"r":495},
{"k":59,"t":-250,"r":-20},{"k":59,"t":10,"r":0},{"k":59,"t":70,"r":75},{"k":59,"t":100,"r":115},{"k":59,"t":130,"r":175},{"k":59,"t":160,"r":230},{"k":59,"t":190,"r":265},{"k":59,"t":220,"r":320},{"k":59,"t":250,"r":350},{"k":59,"t":280,"r":375},{"k":59,"t":310,"r":420},{"k":59,"t":340,"r":455},{"k":59,"t":370,"r":480},{"k":59,"t":420,"r":495},{"k":59,"t":480,"r":490},
{"k":60,"t":-250,"r":-20},{"k":60,"t":10,"r":0},{"k":60,"t":70,"r":65},{"k":60,"t":100,"r":120},{"k":60,"t":130,"r":160},{"k":60,"t":160,"r":200},{"k":60,"t":190,"r":255},{"k":60,"t":220,"r":295},{"k":60,"t":250,"r":345},{"k":60,"t":280,"r":390},{"k":60,"t":310,"r":405},{"k":60,"t":340,"r":430},{"k":60,"t":370,"r":465},{"k":60,"t":420,"r":490},{"k":60,"t":480,"r":495},
{"k":61,"t":-250,"r":-20},{"k":61,"t":10,"r":5},{"k":61,"t":70,"r":70},{"k":61,"t":100,"r":110},{"k":61,"t":130,"r":165},{"k":61,"t":160,"r":230},{"k":61,"t":190,"r":275},{"k":61,"t":220,"r":310},{"k":61,"t":250,"r":340},{"k":61,"t":280,"r":370},{"k":61,"t":310,"r":415},{"k":61,"t":340,"r":450},{"k":61,"t":370,"r":475},{"k":61,"t":420,"r":495},{"k":61,"t":480,"r":490},
{"k":62,"t":-250,"r":-20},{"k":62,"t":10,"r":0},{"k":62,"t":70,"r":80},{"k":62,"t":100,"r":130},{"k":62,"t":130,"r":170},{"k":62,"t":160,"r":210},{"k":62,"t":190,"r":260},{"k":62,"t":220,"r":300},{"k":62,"t":250,"r":350},{"k":62,"t":280,"r":385},{"k":62,"t":310,"r":400},{"k":62,"t":340,"r":440},{"k":62,"t":370,"r":470},{"k":62,"t":420,"r":485},{"k":62,"t":480,"r":490},
{"k":63,"t":-250,"r":-20},{"k":63,"t":10,"r":-5},{"k":63,"t":70,"r":60},{"k":63,"t":100,"r":105},{"k":63,"t":130,"r":155},{"k":63,"t":160,"r":220},{"k":63,"t":190,"r":270},{"k":63,"t":220,"r":310},{"k":63,"t":250,"r":335},{"k":63,"t":280,"r":365},{"k":63,"t":310,"r":410},{"k":63,"t":340,"r":445},{"k":63,"t":370,"r":480},{"k":63,"t":420,"r":495},{"k":63,"t":480,"r":495},
{"k":64,"t":-250,"r":-20},{"k":64,"t":10,"r":0},{"k":64,"t":70,"r":75},{"k":64,"t":100,"r":125},{"k":64,"t":130,"r":165},{"k":64,"t":160,"r":205},{"k":64,"t":190,"r":255},{"k":64,"t":220,"r":305},{"k":64,"t":250,"r":345},{"k":64,"t":280,"r":380},{"k":64,"t":310,"r":395},{"k":64,"t":340,"r":425},{"k":64,"t":370,"r":465},{"k":64,"t":420,"r":490},{"k":64,"t":480,"r":490},
{"k":65,"t":-250,"r":-20},{"k":65,"t":10,"r":0},{"k":65,"t":70,"r":70},{"k":65,"t":100,"r":110},{"k":65,"t":130,"r":160},{"k":65,"t":160,"r":220},{"k":65,"t":190,"r":265},{"k":65,"t":220,"r":300},{"k":65,"t":250,"r":340},{"k":65,"t":280,"r":375},{"k":65,"t":310,"r":415},{"k":65,"t":340,"r":445},{"k":65,"t":370,"r":470},{"k":65,"t":420,"r":490},{"k":65,"t":480,"r":495},
{"k":66,"t":-250,"r":-20},{"k":66,"t":10,"r":0},{"k":66,"t":70,"r":85},{"k":66,"t":100,"r":135},{"k":66,"t":130,"r":180},{"k":66,"t":160,"r":230},{"k":66,"t":190,"r":285},{"k":66,"t":220,"r":315},{"k":66,"t":250,"r":350},{"k":66,"t":280,"r":375},{"k":66,"t":310,"r":400},{"k":66,"t":340,"r":440},{"k":66,"t":370,"r":475},{"k":66,"t":420,"r":495},{"k":66,"t":480,"r":490},
{"k":67,"t":-250,"r":-20},{"k":67,"t":10,"r":-5},{"k":67,"t":70,"r":65},{"k":67,"t":100,"r":130},{"k":67,"t":130,"r":190},{"k":67,"t":160,"r":235},{"k":67,"t":190,"r":275},{"k":67,"t":220,"r":310},{"k":67,"t":250,"r":345},{"k":67,"t":280,"r":380},{"k":67,"t":310,"r":405},{"k":67,"t":340,"r":430},{"k":67,"t":370,"r":465},{"k":67,"t":420,"r":490},{"k":67,"t":480,"r":490},
{"k":68,"t":-250,"r":-20},{"k":68,"t":10,"r":0},{"k":68,"t":70,"r":90},{"k":68,"t":100,"r":140},{"k":68,"t":130,"r":195},{"k":68,"t":160,"r":240},{"k":68,"t":190,"r":280},{"k":68,"t":220,"r":315},{"k":68,"t":250,"r":350},{"k":68,"t":280,"r":375},{"k":68,"t":310,"r":395},{"k":68,"t":340,"r":435},{"k":68,"t":370,"r":470},{"k":68,"t":420,"r":490},{"k":68,"t":480,"r":495},
{"k":69,"t":-250,"r":-20},{"k":69,"t":10,"r":0},{"k":69,"t":70,"r":95},{"k":69,"t":100,"r":150},{"k":69,"t":130,"r":200},{"k":69,"t":160,"r":245},{"k":69,"t":190,"r":285},{"k":69,"t":220,"r":315},{"k":69,"t":250,"r":345},{"k":69,"t":280,"r":370},{"k":69,"t":310,"r":400},{"k":69,"t":340,"r":430},{"k":69,"t":370,"r":465},{"k":69,"t":420,"r":490},{"k":69,"t":480,"r":490},
{"k":70,"t":-250,"r":-20},{"k":70,"t":10,"r":0},{"k":70,"t":70,"r":100},{"k":70,"t":100,"r":150},{"k":70,"t":130,"r":200},{"k":70,"t":160,"r":245},{"k":70,"t":190,"r":285},{"k":70,"t":220,"r":315},{"k":70,"t":250,"r":345},{"k":70,"t":280,"r":370},{"k":70,"t":310,"r":395},{"k":70,"t":340,"r":430},{"k":70,"t":370,"r":465},{"k":70,"t":420,"r":488},{"k":70,"t":480,"r":490}
]},
"transform":[
{"calculate":"isValid(datum.k)?datum.k/14:datum.i","as":"I"},
{"calculate":"0.0614+0.17418*datum.I","as":"u"},
{"calculate":"0.133+0.0011986*(datum.t+200)","as":"v"},
{"calculate":"0.1515+0.0011073*datum.r","as":"w"},
{"calculate":"1-0.0474*datum.u+0.0806*datum.v-0.045*datum.w","as":"d"},
{"calculate":"(50+333.9*datum.u+227.7*datum.v-14.67*datum.w)/datum.d","as":"px"},
{"calculate":"(517+85*datum.u-147.4*datum.v-277.5*datum.w)/datum.d","as":"py"}
],
"encoding":{"x":{"field":"px","type":"quantitative","scale":{"domain":[0,706],"nice":false,"zero":false},"axis":null},"y":{"field":"py","type":"quantitative","scale":{"domain":[684,0],"nice":false,"zero":false},"axis":null}},
"layer":[
{"transform":[{"filter":"datum.g==='wall'"}],"mark":{"type":"line","fill":"#f9f9f9","stroke":null,"strokeWidth":0},"encoding":{"order":{"field":"o","type":"quantitative"}}},
{"transform":[{"filter":"datum.g==='back'"}],"mark":{"type":"line","fill":"#f2f2f2","stroke":null,"strokeWidth":0},"encoding":{"order":{"field":"o","type":"quantitative"}}},
{"transform":[{"filter":"datum.g==='floor'"}],"mark":{"type":"line","fill":"#f5f5f5","stroke":null,"strokeWidth":0},"encoding":{"order":{"field":"o","type":"quantitative"}}},
{"transform":[{"filter":"datum.g==='gr'"}],"mark":{"type":"line","color":"#b0b0b0","strokeWidth":2},"encoding":{"detail":{"field":"n"},"order":{"field":"o","type":"quantitative"}}},
{"transform":[{"filter":"datum.g==='ax'"}],"mark":{"type":"line","color":"#000000","strokeWidth":2},"encoding":{"detail":{"field":"n"},"order":{"field":"o","type":"quantitative"}}},
{"transform":[{"filter":"isValid(datum.k)"}],"mark":{"type":"line","strokeWidth":3.8,"strokeJoin":"round"},"encoding":{"color":{"field":"k","type":"ordinal","legend":null,"scale":{"range":["#1f77b4","#ff7f0e","#2ca02c","#d62728","#9467bd","#8c564b","#e377c2","#7f7f7f","#bcbd22","#17becf"]}},"order":{"field":"t","type":"quantitative"}}},
{"transform":[{"filter":"datum.g==='il'"}],"mark":{"type":"text","font":"Liberation Serif","fontSize":23,"color":"#000000","dx":-17,"dy":47},"encoding":{"text":{"field":"s"}}},
{"transform":[{"filter":"datum.g==='tl'"}],"mark":{"type":"text","font":"Liberation Serif","fontSize":23,"color":"#000000"},"encoding":{"text":{"field":"s"}}},
{"transform":[{"filter":"datum.g==='rl'"}],"mark":{"type":"text","font":"Liberation Serif","fontSize":23,"color":"#000000","dx":43,"dy":4},"encoding":{"text":{"field":"s"}}},
{"transform":[{"filter":"datum.g==='title'"}],"mark":{"type":"text","font":"Liberation Serif","fontSize":31,"color":"#000000","dx":62,"dy":-70},"encoding":{"text":{"field":"s"}}},
{"transform":[{"filter":"datum.g==='xl'"}],"mark":{"type":"text","font":"Liberation Serif","fontSize":25,"color":"#000000","dx":-9,"dy":88,"angle":18},"encoding":{"text":{"field":"s"}}},
{"transform":[{"filter":"datum.g==='yl'"}],"mark":{"type":"text","font":"Liberation Serif","fontSize":25,"color":"#000000","dx":-17,"dy":89,"angle":314},"encoding":{"text":{"field":"s"}}},
{"transform":[{"filter":"datum.g==='zl'"}],"mark":{"type":"text","font":"Liberation Serif","fontSize":26,"color":"#000000","dx":17,"dy":86,"angle":270},"encoding":{"text":{"field":"s"}}},
{"transform":[{"filter":"datum.g==='off'"}],"mark":{"type":"text","font":"Liberation Serif","fontStyle":"italic","fontSize":26,"color":"#000000","dx":-17,"dy":82,"angle":10},"encoding":{"text":{"field":"s"}}}
]}
